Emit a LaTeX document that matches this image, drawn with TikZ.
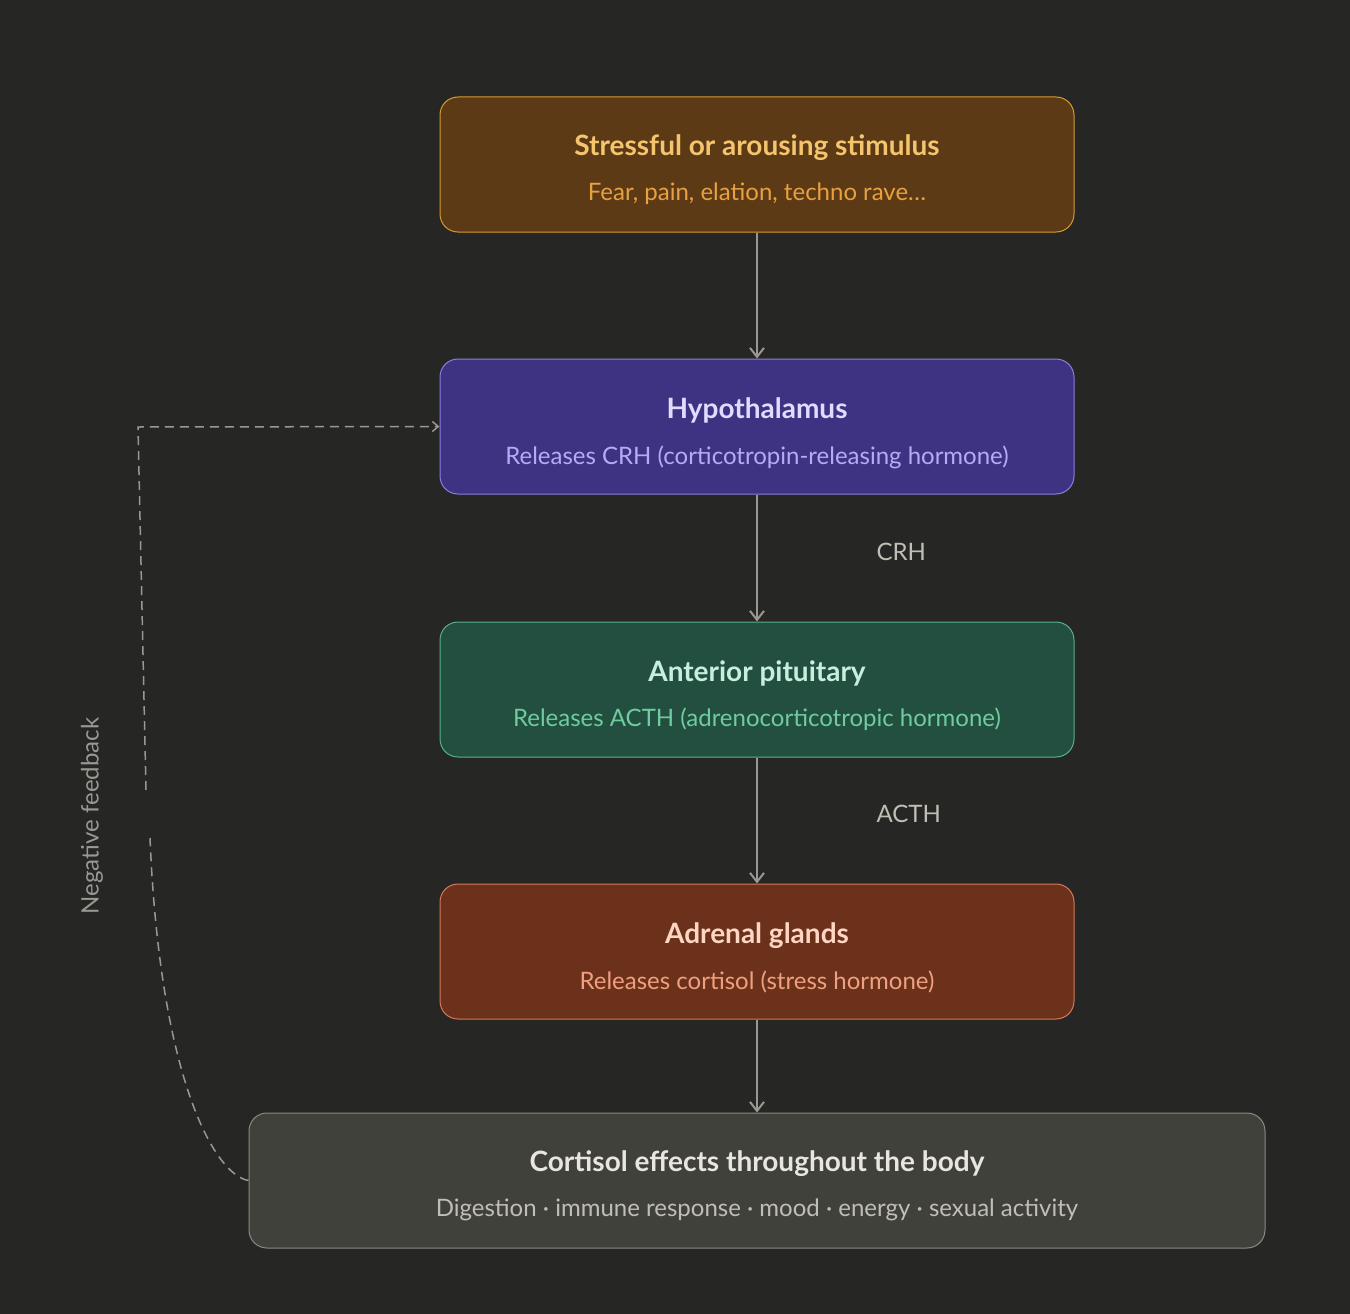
\documentclass[tikz,border=0pt]{standalone}
\usepackage{fontspec}
\setmainfont{Lato}
\usetikzlibrary{arrows.meta}
\definecolor{bg}{HTML}{262624}
\definecolor{sF}{HTML}{5C3A16}\definecolor{sB}{HTML}{D99A30}\definecolor{sT}{HTML}{F5C56E}\definecolor{sS}{HTML}{E8A040}
\definecolor{hF}{HTML}{3D3382}\definecolor{hB}{HTML}{8A7FE0}\definecolor{hT}{HTML}{E0DCFF}\definecolor{hS}{HTML}{B5ABF5}
\definecolor{pF}{HTML}{234F40}\definecolor{pB}{HTML}{5BB08A}\definecolor{pT}{HTML}{C8EEDD}\definecolor{pS}{HTML}{6FCC9E}
\definecolor{aF}{HTML}{6B311B}\definecolor{aB}{HTML}{D9785A}\definecolor{aT}{HTML}{FFD6C4}\definecolor{aS}{HTML}{F0A080}
\definecolor{cF}{HTML}{41413C}\definecolor{cB}{HTML}{8A8A85}\definecolor{cT}{HTML}{E8E6DE}\definecolor{cS}{HTML}{C0BEB5}
\definecolor{ln}{HTML}{9A9892}
\begin{document}
\begin{tikzpicture}[x=1pt,y=-1pt,
 box/.style={draw,rounded corners=18pt,line width=1pt,minimum height=135pt,inner sep=0pt},
 ttl/.style={font=\fontsize{28}{32}\selectfont\bfseries},
 sub/.style={font=\fontsize{24}{28}\selectfont},
 arr/.style={ln,line width=2pt,-{Straight Barb[length=9pt,width=14pt]}},
 lbl/.style={font=\fontsize{24}{28}\selectfont,text=cS}]
\fill[bg] (0,0) rectangle (1350,1314);
\useasboundingbox (0,0) rectangle (1350,1314);
\node[box,fill=sF,draw=sB,minimum width=634pt] (s) at (757,164.5) {};
\node[ttl,text=sT] at (757,148) {Stressful or arousing stimulus};
\node[sub,text=sS] at (757,194) {Fear, pain, elation, techno rave…};
\node[box,fill=hF,draw=hB,minimum width=634pt] (h) at (757,426.5) {};
\node[ttl,text=hT] at (757,410) {Hypothalamus};
\node[sub,text=hS] at (757,457) {Releases CRH (corticotropin-releasing hormone)};
\node[box,fill=pF,draw=pB,minimum width=634pt] (p) at (757,689.5) {};
\node[ttl,text=pT] at (757,673) {Anterior pituitary};
\node[sub,text=pS] at (757,719) {Releases ACTH (adrenocorticotropic hormone)};
\node[box,fill=aF,draw=aB,minimum width=634pt] (a) at (757,951.5) {};
\node[ttl,text=aT] at (757,936) {Adrenal glands};
\node[sub,text=aS] at (757,982) {Releases cortisol (stress hormone)};
\node[box,fill=cF,draw=cB,minimum width=1016pt] (c) at (757,1180.5) {};
\node[ttl,text=cT] at (757,1164) {Cortisol effects throughout the body};
\node[sub,text=cS] at (757,1210) {Digestion · immune response · mood · energy · sexual activity};
\draw[arr] (s) -- (h);
\draw[arr] (h) -- (p);
\draw[arr] (p) -- (a);
\draw[arr] (a.south) -- (a.south|-c.north);
\node[lbl,anchor=west] (crh) at (873,552) {CRH};
\node[lbl,anchor=west] (acth) at (873,814) {ACTH};
\node[lbl,rotate=90,text=ln] (nf) at (92,816) {Negative feedback};
\coordinate (f1) at (150,838);
\coordinate (f2) at (146,790);
\draw[ln,line width=1.5pt,dash pattern=on 9pt off 6pt] (c.west) .. controls (215,1175) and (160,1080) .. (f1);
\draw[ln,line width=1.5pt,dash pattern=on 9pt off 6pt,-{Straight Barb[length=6pt,width=10pt]}] (f2) -- (138,427) -- (h.west);
\end{tikzpicture}
\end{document}
